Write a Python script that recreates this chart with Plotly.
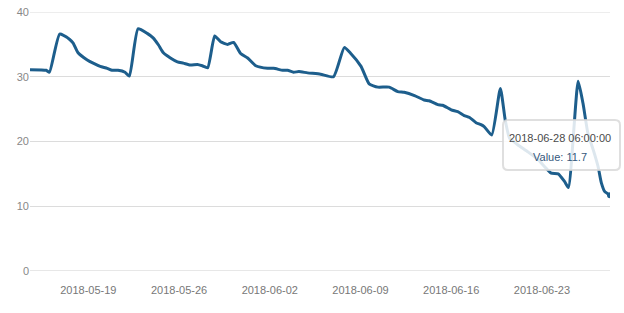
import plotly.graph_objects as go

dates = [
    "2018-05-14 12:00", "2018-05-15 18:00", "2018-05-16 00:00", "2018-05-16 19:00",
    "2018-05-17 13:00", "2018-05-17 20:00", "2018-05-18 05:00", "2018-05-18 22:00",
    "2018-05-19 09:00", "2018-05-19 22:00", "2018-05-20 11:00", "2018-05-20 20:00",
    "2018-05-21 07:00", "2018-05-21 20:00", "2018-05-22 04:00", "2018-05-22 20:00",
    "2018-05-23 13:00", "2018-05-24 00:00", "2018-05-24 10:00", "2018-05-24 19:00",
    "2018-05-25 08:00", "2018-05-25 21:00", "2018-05-26 08:00", "2018-05-26 21:00",
    "2018-05-27 10:00", "2018-05-27 19:00", "2018-05-28 05:00", "2018-05-28 18:00",
    "2018-05-29 05:00", "2018-05-29 18:00", "2018-05-30 05:00", "2018-05-30 18:00",
    "2018-05-31 07:00", "2018-05-31 22:00", "2018-06-01 20:00", "2018-06-02 07:00",
    "2018-06-03 00:00", "2018-06-03 09:00", "2018-06-03 20:00", "2018-06-04 06:00",
    "2018-06-04 22:00", "2018-06-05 22:00", "2018-06-06 22:00", "2018-06-07 18:00",
    "2018-06-08 06:00", "2018-06-09 01:00", "2018-06-09 16:00", "2018-06-10 08:00",
    "2018-06-11 05:00", "2018-06-11 21:00", "2018-06-12 09:00", "2018-06-13 04:00",
    "2018-06-13 22:00", "2018-06-14 07:00", "2018-06-14 23:00", "2018-06-15 08:00",
    "2018-06-16 00:00", "2018-06-16 12:00", "2018-06-17 00:00", "2018-06-17 10:00",
    "2018-06-17 22:00", "2018-06-18 07:00", "2018-06-18 13:00", "2018-06-19 03:00",
    "2018-06-19 19:00", "2018-06-20 04:00", "2018-06-20 12:00", "2018-06-20 20:00",
    "2018-06-21 03:00", "2018-06-21 22:00", "2018-06-22 17:00", "2018-06-23 05:00",
    "2018-06-23 17:00", "2018-06-24 06:00", "2018-06-24 18:00", "2018-06-25 01:00",
    "2018-06-25 19:00", "2018-06-26 04:00", "2018-06-26 13:00", "2018-06-26 23:00",
    "2018-06-27 08:00", "2018-06-27 14:00", "2018-06-27 20:00", "2018-06-28 06:00",
]
values = [
    31.1, 31.0, 30.7, 36.6,
    35.8, 35.2, 33.7, 32.6,
    32.1, 31.6, 31.3, 31.0,
    31.0, 30.7, 30.1, 37.4,
    36.7, 36.0, 34.9, 33.7,
    32.9, 32.3, 32.1, 31.8,
    31.9, 31.7, 31.4, 36.3,
    35.4, 35.0, 35.3, 33.6,
    32.9, 31.7, 31.3, 31.3,
    31.0, 31.0, 30.7, 30.8,
    30.6, 30.4, 30.0, 34.5,
    33.6, 31.6, 28.9, 28.4,
    28.4, 27.7, 27.6, 27.1,
    26.4, 26.3, 25.7, 25.6,
    24.9, 24.6, 24.0, 23.7,
    22.9, 22.6, 22.3, 21.0,
    28.2, 23.3, 20.5, 20.0,
    19.5, 18.4, 17.2, 16.1,
    15.1, 15.0, 13.8, 12.9,
    29.3, 25.9, 21.3, 18.7,
    16.1, 13.6, 12.3, 11.7,
]

tooltip_time = "2018-06-28 06:00:00"
tooltip_value = "Value: 11.7"

line_color = "#1d5e8c"

fig = go.Figure()
fig.add_trace(go.Scatter(
    x=dates, y=values, mode="lines",
    line=dict(color=line_color, width=3, shape="spline", smoothing=0.5),
    hoverinfo="skip", showlegend=False,
))
fig.add_trace(go.Scatter(
    x=[dates[-1]], y=[values[-1]], mode="markers",
    marker=dict(color=line_color, size=6),
    hoverinfo="skip", showlegend=False,
))

W, H = 624, 313
L, R, T, B = 30, 14, 12, 42
pw, ph = W - L - R, H - T - B

def px(x):
    return (x - L) / pw

def py(y):
    return (H - B - y) / ph

x0, x1, y0, y1 = px(503), px(620), py(170), py(120)
rx, ry = 5 / pw, 5 / ph
path = (f"M {x0+rx},{y1} L {x1-rx},{y1} Q {x1},{y1} {x1},{y1-ry} "
        f"L {x1},{y0+ry} Q {x1},{y0} {x1-rx},{y0} L {x0+rx},{y0} "
        f"Q {x0},{y0} {x0},{y0+ry} L {x0},{y1-ry} Q {x0},{y1} {x0+rx},{y1} Z")

fig.update_layout(
    width=W, height=H,
    margin=dict(l=L, r=R, t=T, b=B, autoexpand=False),
    paper_bgcolor="white", plot_bgcolor="white",
    font=dict(family="Liberation Sans, Arial, sans-serif", size=11, color="#777"),
    xaxis=dict(
        type="date", range=[dates[0], dates[-1]], automargin=False,
        tick0="2018-05-19", dtick=7 * 86400000, tickformat="%Y-%m-%d",
        showgrid=False, zeroline=False, showline=False,
        ticks="outside", ticklen=9, tickcolor="rgba(0,0,0,0)",
        tickfont=dict(size=11, color="#777"),
    ),
    yaxis=dict(
        range=[0, 40], dtick=10, showgrid=True, gridcolor="#dcdcdc", gridwidth=1,
        zeroline=False, showline=False, automargin=False,
        tickfont=dict(size=11, color="#888"),
    ),
    shapes=[dict(type="line", xref="paper", yref="y", x0=0, x1=1, y0=0, y1=0,
                 line=dict(color="#cfcfcf", width=1), layer="below"),
            dict(type="line", xref="paper", yref="y", x0=0, x1=1, y0=40, y1=40,
                 line=dict(color="#dcdcdc", width=1), layer="below"),
            dict(type="path", xref="paper", yref="paper", path=path,
                 fillcolor="rgba(255,255,255,0.85)",
                 line=dict(color="rgba(215,215,215,0.8)", width=2), layer="above")],
    annotations=[
        dict(xref="paper", yref="paper", x=px(560), y=py(137.5), text=tooltip_time,
             showarrow=False, font=dict(size=11, color="#4a4a4a"), xanchor="center", yanchor="middle"),
        dict(xref="paper", yref="paper", x=px(560), y=py(157), text=tooltip_value,
             showarrow=False, font=dict(size=11, color="#35587c"), xanchor="center", yanchor="middle"),
    ],
)

fig.write_html("out.html")
